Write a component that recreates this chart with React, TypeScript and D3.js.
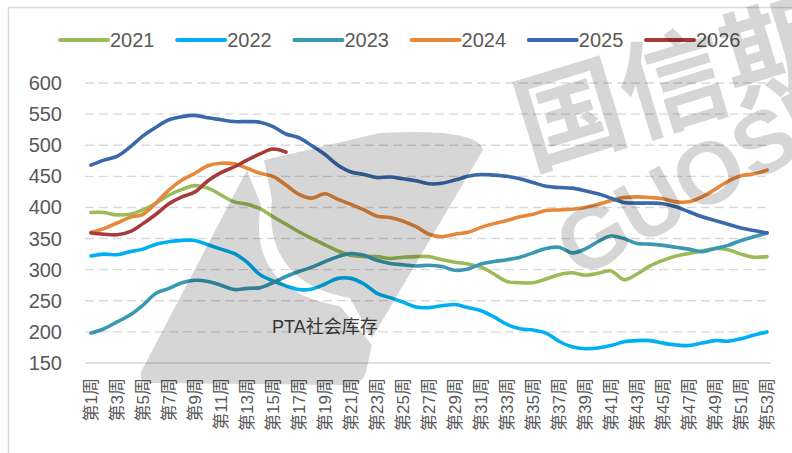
import * as d3 from "d3";

const weeks = d3.range(1, 54);
const yTicks = [150, 200, 250, 300, 350, 400, 450, 500, 550, 600];

const s2021 = [392, 392, 388, 389, 396, 407, 420, 429, 435, 431, 420, 409, 405, 398, 385, 373, 361, 350, 340, 330, 323, 321, 321, 318, 320, 321, 321, 316, 312, 309, 304, 293, 281, 279, 279, 285, 292, 295, 291, 294, 298, 284, 293, 306, 315, 322, 326, 330, 334, 332, 325, 320, 321];
const s2022 = [322, 325, 324, 329, 333, 341, 345, 347, 347, 340, 333, 326, 312, 292, 282, 274, 268, 269, 277, 286, 286, 277, 262, 255, 248, 240, 239, 242, 244, 239, 234, 224, 212, 205, 203, 198, 185, 176, 173, 174, 178, 184, 186, 186, 182, 179, 178, 182, 186, 185, 189, 195, 200];
const s2023 = [198, 205, 216, 227, 243, 262, 270, 279, 283, 281, 275, 268, 270, 271, 279, 289, 297, 304, 313, 321, 326, 323, 315, 310, 308, 306, 307, 305, 299, 301, 309, 313, 316, 320, 327, 334, 336, 327, 333, 345, 354, 350, 342, 341, 339, 336, 333, 329, 334, 339, 347, 353, 359];
const s2024 = [360, 366, 375, 384, 389, 407, 428, 444, 455, 467, 471, 470, 463, 455, 450, 436, 421, 415, 422, 413, 405, 396, 386, 384, 378, 369, 357, 353, 357, 360, 368, 374, 379, 385, 389, 395, 396, 397, 400, 405, 411, 416, 417, 416, 414, 409, 409, 417, 429, 442, 451, 454, 460];
const s2025 = [468, 476, 482, 497, 515, 529, 541, 546, 548, 544, 541, 538, 538, 537, 530, 518, 512, 499, 485, 468, 457, 453, 448, 449, 446, 443, 438, 439, 444, 450, 453, 452, 450, 446, 440, 434, 432, 431, 427, 422, 415, 408, 407, 407, 406, 401, 393, 385, 379, 373, 367, 363, 359];
const s2026 = [359, 357, 356, 361, 374, 389, 406, 417, 425, 443, 456, 465, 476, 486, 494, 489];

const seriesNames = ["2021", "2022", "2023", "2024", "2025", "2026"];
const seriesColors = ["#9bbb59", "#00b0f0", "#3a98b0", "#e6873a", "#3b68a8", "#a83a3a"];
const seriesValues = [s2021, s2022, s2023, s2024, s2025, s2026];

const W = 792;
const H = 453;
const font = "'Liberation Sans', Arial, 'Noto Sans CJK SC', sans-serif";

function App() {
  const x = d3.scalePoint<number>().domain(weeks).range([91, 767]);
  const y = d3.scaleLinear().domain([150, 600]).range([363, 83]);

  const line = d3
    .line<number>()
    .x((_, i) => x(weeks[i])!)
    .y((v) => y(v))
    .curve(d3.curveCatmullRom.alpha(0.5));

  const legendX = d3.scaleLinear().domain([0, 1]).range([60, 177.2]);

  return (
    <svg width={W} height={H} style={{ position: "absolute", left: 0, top: 0, background: "#ffffff" }} fontFamily={font}>
      <rect x={8.5} y={7.5} width={W} height={H} fill="none" stroke="#d9d9d9" strokeWidth={1.5} />

      {/* grid */}
      {yTicks.map((t) => (
        <line key={t} x1={85} x2={771} y1={y(t)} y2={y(t)} stroke="#d9d9d9" strokeWidth={1.4}
          strokeDasharray={t === 150 ? undefined : "9,5"} />
      ))}
      {yTicks.map((t) => (
        <text key={"l" + t} x={62} y={y(t)} textAnchor="end" dominantBaseline="central" fontSize={20} fill="#595959">{t}</text>
      ))}

      {/* x labels */}
      {weeks.filter((w) => w % 2 === 1).map((w) => (
        <text key={w} transform={`translate(${x(w)},378) rotate(-90)`} textAnchor="end" dominantBaseline="central"
          fontSize={17} fill="#595959">{`第${w}周`}</text>
      ))}

      {/* series */}
      {seriesValues.map((vals, i) => (
        <path key={seriesNames[i]} d={line(vals)!} fill="none" stroke={seriesColors[i]} strokeWidth={3.6}
          strokeLinecap="round" strokeLinejoin="round" />
      ))}

      <text x={272} y={333} fontSize={18} fill="#404040">PTA社会库存</text>

      {/* legend */}
      {seriesNames.map((n, i) => (
        <g key={n} transform={`translate(${legendX(i)},40)`}>
          <line x1={0} x2={48} y1={0} y2={0} stroke={seriesColors[i]} strokeWidth={4} strokeLinecap="round" />
          <text x={50} y={0} dominantBaseline="central" fontSize={20} fill="#595959">{n}</text>
        </g>
      ))}

      {/* watermark */}
      <g fill="#000" fillOpacity={0.16}>
        <path d="M145,383 Q138,378 142,370 L247,170 L261,205 C252,255 272,295 340,306 L372,345 L366,372 Q362,386 345,385 Z" />
        <path d="M264,160 L380,133 Q478,128 483,150 L372,338 L350,298 C290,288 266,250 272,200 Z" />
        <text transform="translate(530,168) rotate(-17)" fontSize={108} fontWeight="bold" fontFamily="'Noto Sans CJK SC', sans-serif">国信期货</text>
        <text transform="translate(578,280) rotate(-29)" fontSize={88} fontWeight="bold" fontFamily="'Liberation Sans', Arial, sans-serif">GUOSEN</text>
      </g>
    </svg>
  );
}

export default App;
